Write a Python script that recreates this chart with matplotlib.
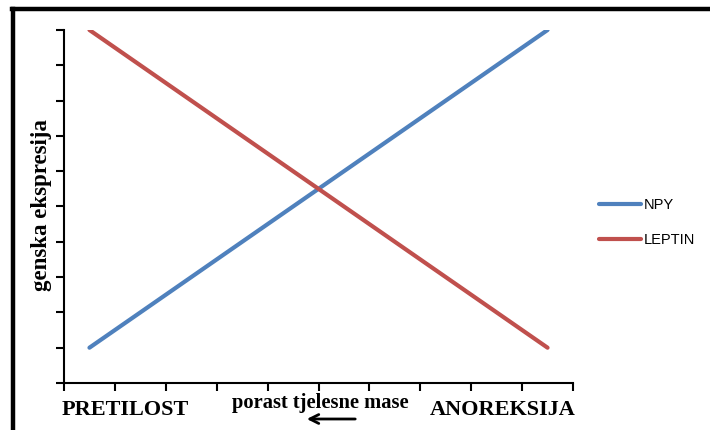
import numpy as np
import matplotlib.pyplot as plt
from matplotlib.lines import Line2D

# categories along the x axis (10 Excel-style categories) and the two series
categories = list(range(1, 11))
npy = [1, 2, 3, 4, 5, 6, 7, 8, 9, 10]
leptin = [10, 9, 8, 7, 6, 5, 4, 3, 2, 1]

blue = '#4F81BD'
red = '#C0504D'
serif = ['Liberation Serif', 'DejaVu Serif']

fig = plt.figure(figsize=(7.1, 4.3), dpi=100)
ax = fig.add_axes([64 / 710, 1 - 383 / 430, (573 - 64) / 710, (383 - 30) / 430])

x = np.arange(len(categories)) + 0.5
ax.plot(x, npy, color=blue, lw=3, solid_capstyle='round', label='NPY')
ax.plot(x, leptin, color=red, lw=3, solid_capstyle='round', label='LEPTIN')

ax.set_xlim(0, len(categories))
ax.set_ylim(0, 10)
ax.set_xticks(np.arange(0, len(categories) + 1))
ax.set_yticks(np.arange(0, 11))
ax.set_xticklabels([])
ax.set_yticklabels([])
ax.tick_params(direction='out', length=6, width=1.5, color='black')
for s in ['top', 'right']:
    ax.spines[s].set_visible(False)
for s in ['left', 'bottom']:
    ax.spines[s].set_linewidth(1.5)

ax.set_ylabel('genska ekspresija', family=serif, fontweight='bold', fontsize=16.5)
ax.yaxis.set_label_coords(-0.023, 0.505)

# category labels under the axis
fig.text(62 / 710, 1 - 410 / 430, 'PRETILOST', family=serif, fontweight='bold',
         fontsize=16, ha='left', va='center')
fig.text(576 / 710, 1 - 410 / 430, 'ANOREKSIJA', family=serif, fontweight='bold',
         fontsize=16, ha='right', va='center')
fig.text(320 / 710, 1 - 403 / 430, 'porast tjelesne mase', family=serif, fontweight='bold',
         fontsize=14.8, ha='center', va='center')
fig.add_artist(plt.Annotation('', xy=(304 / 710, 1 - 419 / 430), xytext=(358 / 710, 1 - 419 / 430),
                              xycoords='figure fraction', textcoords='figure fraction',
                              arrowprops=dict(arrowstyle='->', lw=2, color='black',
                                              mutation_scale=16)))

leg = ax.legend(loc='center left', bbox_to_anchor=(1.025, 0.455), frameon=False,
                prop={'family': 'Liberation Sans', 'size': 10.5}, handlelength=2.9,
                handletextpad=0.2, labelspacing=1.45)

# outer frame: thick black lines at top and left
fig.add_artist(Line2D([12 / 710, 1], [1 - 9 / 430, 1 - 9 / 430], color='black', lw=3.2,
                      transform=fig.transFigure))
fig.add_artist(Line2D([13 / 710, 13 / 710], [0, 1 - 9 / 430], color='black', lw=3.2,
                      transform=fig.transFigure))

fig.savefig('out.png', dpi=100)
